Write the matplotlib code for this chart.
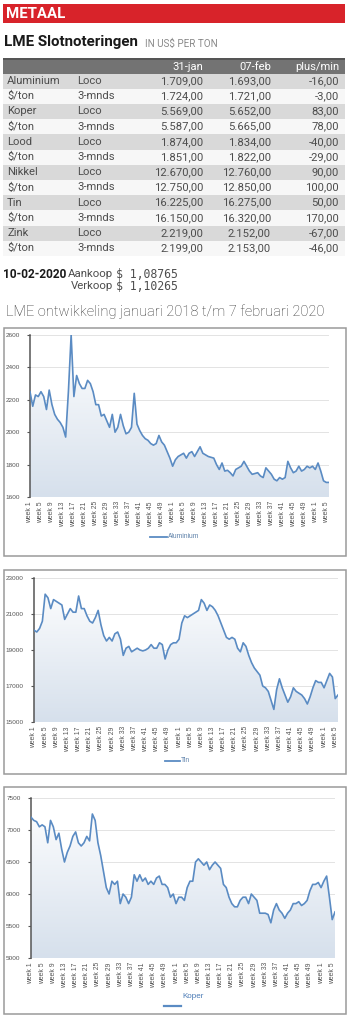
import matplotlib
matplotlib.use('Agg')
import matplotlib.pyplot as plt
import numpy as np
from matplotlib.patches import Rectangle, PathPatch
from matplotlib.lines import Line2D
from matplotlib.colors import LinearSegmentedColormap

# ---------------- data ----------------
metals = ['Aluminium', 'Koper', 'Lood', 'Nikkel', 'Tin', 'Zink']
loco_jan = [1709, 5569, 1874, 12670, 16225, 2219]
loco_feb = [1693, 5652, 1834, 12760, 16275, 2152]
mnds_jan = [1724, 5587, 1851, 12750, 16150, 2199]
mnds_feb = [1721, 5665, 1822, 12850, 16320, 2153]
col_headers = ['31-jan', '07-feb', 'plus/min']
koers_datum = '10-02-2020'
aankoop = '1,08765'
verkoop = '1,10265'

week_labels = ['week %d' % w for w in range(1, 53, 4)] * 2 + ['week 1', 'week 5']

aluminium = [2250, 2160, 2230, 2220, 2250, 2220, 2140, 2260, 2170, 2110,
             2080, 2060, 2030, 1970, 2250, 2600, 2220, 2350, 2300, 2270,
             2270, 2320, 2300, 2250, 2170, 2170, 2100, 2110, 2070, 2030,
             2110, 2000, 2030, 2110, 2040, 1990, 2000, 2030, 2240, 2050,
             2010, 1980, 1960, 1950, 1930, 1920, 1930, 1980, 1940, 1920,
             1880, 1840, 1790, 1830, 1850, 1860, 1870, 1840, 1870, 1880,
             1850, 1880, 1910, 1870, 1860, 1850, 1845, 1840, 1800, 1770,
             1810, 1760, 1765, 1750, 1730, 1770, 1780, 1790, 1820, 1790,
             1760, 1740, 1745, 1750, 1730, 1720, 1780, 1760, 1740, 1710,
             1700, 1720, 1710, 1720, 1820, 1780, 1750, 1760, 1790, 1760,
             1770, 1790, 1780, 1790, 1770, 1810, 1760, 1700, 1690, 1690]

tin = [20100, 20000, 20200, 20600, 22100, 21900, 21300, 21800, 21700, 21600,
       21500, 20700, 21000, 21300, 21100, 21100, 22000, 21300, 21300, 20900,
       20600, 20500, 20800, 21200, 20400, 19800, 19500, 19700, 19500, 19900,
       20000, 19600, 18700, 19100, 19200, 18900, 19000, 19100, 19000, 18950,
       19000, 19100, 19300, 19100, 19100, 19400, 19300, 18500, 19000, 19300,
       19400, 19400, 19600, 20500, 20900, 20800, 20900, 21000, 21100, 21200,
       21800, 21600, 21200, 21500, 21400, 21200, 20900, 20500, 20100, 19700,
       19600, 19700, 19600, 19100, 18900, 19400, 19200, 18700, 18300, 18000,
       17800, 17600, 17000, 16900, 16700, 16200, 15700, 16800, 17400, 16900,
       16500, 16100, 16400, 16900, 16700, 16600, 16500, 16300, 16000, 16400,
       16900, 17300, 17200, 17200, 16900, 17300, 17700, 17500, 16300, 16500]

koper = [7200, 7150, 7130, 7050, 7080, 7050, 6800, 7150, 7050, 6850,
         6950, 6700, 6500, 6650, 6750, 6900, 6970, 6800, 6750, 6800,
         6900, 6830, 7250, 7150, 6800, 6600, 6350, 6100, 6000, 6200,
         6150, 6200, 5850, 6000, 5950, 5850, 5950, 6300, 6200, 6300,
         6200, 6250, 6150, 6200, 6150, 6250, 6280, 6150, 6150, 6100,
         5950, 6000, 5850, 5950, 5950, 5900, 6100, 6200, 6200, 6500,
         6550, 6500, 6450, 6500, 6380, 6450, 6500, 6450, 6400, 6150,
         6100, 5950, 5850, 5800, 5800, 5900, 5950, 5950, 5850, 6000,
         5950, 5900, 5700, 5700, 5700, 5680, 5550, 5750, 5850, 5750,
         5700, 5620, 5700, 5750, 5850, 5850, 5880, 5820, 5850, 5900,
         6050, 6150, 6150, 6180, 6100, 6200, 6280, 5950, 5600, 5720]

# ---------------- layout helpers ----------------
W, H = 353, 1024
fig = plt.figure(figsize=(W / 100, H / 100), dpi=100)
fig.patch.set_facecolor('white')


def fx(x):
    return x / W


def fy(y):
    return 1 - y / H


def rect(x0, y0, x1, y1, **kw):
    kw.setdefault('zorder', -5)
    fig.patches.append(Rectangle((fx(x0), fy(y1)), (x1 - x0) / W, (y1 - y0) / H,
                                 transform=fig.transFigure, **kw))


def text(x, y, s, **kw):
    fig.text(fx(x), fy(y), s, **kw)


def nl(v, dec=2):
    s = f"{v:,.{dec}f}"
    return s.replace(',', 'X').replace('.', ',').replace('X', '.')


FONT = 'Roboto'
TXT = '#4d4d4d'
FS = 8.1

# ---------------- header ----------------
rect(3, 4, 345, 23, facecolor='#d8232a', edgecolor='none')
text(6, 14, 'METAAL', color='white', fontsize=10.8, fontweight='bold', family=FONT, va='center')
text(4, 42, 'LME Slotnoteringen', color='#1a1a1a', fontsize=10.9, fontweight='bold', family=FONT, va='center')
text(145, 43.5, 'IN US$ PER TON', color='#8a8a8a', fontsize=7.1, family=FONT, va='center')
rect(3, 57.5, 345, 59.5, facecolor='#555555', edgecolor='none')

# ---------------- table ----------------
row_h = 15.2
rect(3, 59.5, 345, 73.5, facecolor='#737373', edgecolor='none')
col_right = [203, 271, 339]
for xr, h in zip(col_right, col_headers):
    text(xr, 66.5, h, color='white', fontsize=FS, family=FONT, ha='right', va='center')

rows = []
for m, lj, lf, mj, mf in zip(metals, loco_jan, loco_feb, mnds_jan, mnds_feb):
    rows.append((m, 'Loco', lj, lf))
    rows.append(('$/ton', '3-mnds', mj, mf))

y0 = 73.5
for i, (a, b, v1, v2) in enumerate(rows):
    top = y0 + i * row_h
    if i % 2 == 0:
        rect(3, top, 345, top + row_h, facecolor='#d9d9d9', edgecolor='none')
    else:
        rect(3, top, 345, top + row_h, facecolor='#f7f7f7', edgecolor='none')
    yc = top + row_h / 2
    text(7, yc, a, color=TXT, fontsize=FS, family=FONT, va='center')
    text(77, yc, b, color=TXT, fontsize=FS, family=FONT, va='center')
    text(col_right[0], yc, nl(v1), color=TXT, fontsize=FS, family=FONT, ha='right', va='center')
    text(col_right[1], yc, nl(v2), color=TXT, fontsize=FS, family=FONT, ha='right', va='center')
    text(col_right[2], yc, nl(v2 - v1), color=TXT, fontsize=FS, family=FONT, ha='right', va='center')

# ---------------- exchange rate ----------------
text(3, 274, koers_datum, color='#1a1a1a', fontsize=8.6, fontweight='bold', family=FONT, va='center')
text(113, 274, 'Aankoop', color=TXT, fontsize=8.2, family=FONT, va='center', ha='right')
text(113, 286, 'Verkoop', color=TXT, fontsize=8.2, family=FONT, va='center', ha='right')
text(116, 274, '$ ' + aankoop, color=TXT, fontsize=8.3, family='DejaVu Sans Mono', va='center')
text(116, 286, '$ ' + verkoop, color=TXT, fontsize=8.3, family='DejaVu Sans Mono', va='center')

text(6, 311.5, 'LME ontwikkeling januari 2018 t/m 7 februari 2020', color='#333333',
     fontsize=10.5, family=FONT, fontweight='light', va='center')

# ---------------- charts ----------------
LINE = '#5a8bc3'
cmap = LinearSegmentedColormap.from_list('g', ['#d6e0ec', '#ffffff'])


def chart(panel, axbox, values, ylim, ystep):
    px0, py0, px1, py1 = panel
    rect(px0, py0, px1, py1, facecolor='white', edgecolor='#9a9a9a', linewidth=1.1)
    ax0, ay0, ax1, ay1 = axbox
    ax = fig.add_axes([fx(ax0), fy(ay1), (ax1 - ax0) / W, (ay1 - ay0) / H])
    ax.set_facecolor('none')
    x = np.arange(len(values))
    ymin, ymax = ylim
    poly = ax.fill_between(x, values, ymin, facecolor='none', edgecolor='none')
    grad = np.linspace(0, 1, 256).reshape(-1, 1)
    im = ax.imshow(grad, extent=[x[0], x[-1], ymin, ymax], origin='lower', aspect='auto',
                   cmap=cmap, zorder=1)
    pp = PathPatch(poly.get_paths()[0], facecolor='none', edgecolor='none', transform=ax.transData)
    ax.add_patch(pp)
    im.set_clip_path(pp)
    ax.plot(x, values, color=LINE, lw=1.2, zorder=3)
    ax.set_xlim(x[0], x[-1])
    ax.set_ylim(ymin, ymax)
    ax.set_yticks(np.arange(ymin, ymax + 1, ystep))
    ax.set_xticks(np.arange(0, len(week_labels) * 4, 4))
    ax.set_xticklabels(week_labels, rotation=90, fontsize=4.9, color='#555555', family='Liberation Sans')
    ax.tick_params(axis='x', length=0, pad=3)
    ax.tick_params(axis='y', length=2.5, width=0.8, color='#555555', labelsize=4.6,
                   labelcolor='#555555', pad=5)
    for lab in ax.get_yticklabels():
        lab.set_family('Liberation Sans')
    ax.grid(axis='y', color='#dedede', lw=0.6, zorder=0)
    ax.set_axisbelow(True)
    for s in ['top', 'right', 'bottom']:
        ax.spines[s].set_visible(False)
    ax.spines['left'].set_color('#555555')
    ax.spines['left'].set_linewidth(1.1)
    return ax


ax1 = chart((4, 328, 346, 556), (30, 335, 329, 497), aluminium, (1600, 2600), 200)
fig.lines.append(Line2D([fx(150), fx(167)], [fy(537), fy(537)], color=LINE, lw=1.3, transform=fig.transFigure))
text(168, 537, 'Aluminium', color='#5a7fa8', fontsize=4.8, family='Liberation Sans', va='center')

ax2 = chart((4, 570, 346, 774), (34, 578, 338, 722), tin, (15000, 23000), 2000)
fig.lines.append(Line2D([fx(165), fx(180)], [fy(761), fy(761)], color=LINE, lw=1.3, transform=fig.transFigure))
text(181, 761, 'Tin', color='#5a7fa8', fontsize=4.8, family='Liberation Sans', va='center')

ax3 = chart((4, 787, 346, 1014), (31, 798, 335, 958), koper, (5000, 7500), 500)
text(193, 997, 'Koper', color='#4a7ab5', fontsize=5.8, family='Liberation Sans', va='center', ha='center')
fig.lines.append(Line2D([fx(164), fx(181)], [fy(1006), fy(1006)], color=LINE, lw=1.6, transform=fig.transFigure))

fig.savefig('out.png', dpi=100, facecolor='white')
